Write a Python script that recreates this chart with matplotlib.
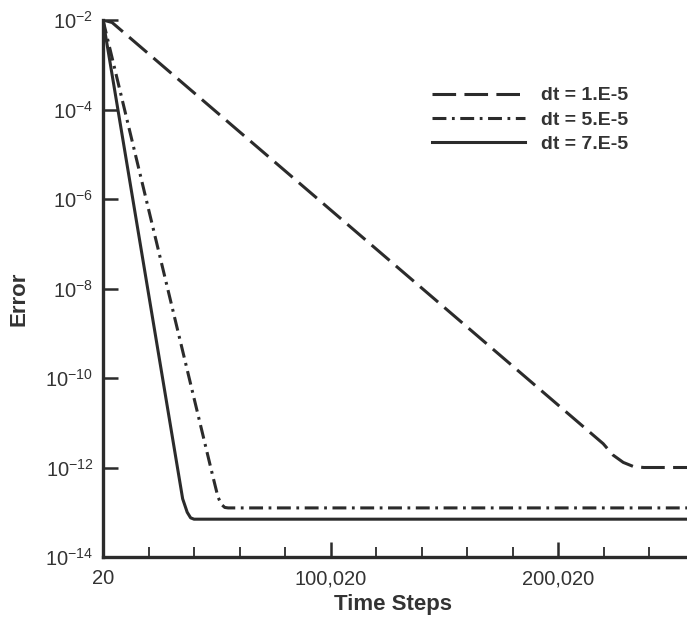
import math
import matplotlib
matplotlib.use("Agg")
import matplotlib.pyplot as plt
from matplotlib.ticker import FixedLocator, FuncFormatter

plt.rcParams['font.family'] = ['Liberation Sans', 'DejaVu Sans']
plt.rcParams['mathtext.fontset'] = 'custom'
plt.rcParams['mathtext.rm'] = 'Liberation Sans'
plt.rcParams['mathtext.it'] = 'Liberation Sans'
plt.rcParams['axes.unicode_minus'] = False
plt.rcParams['lines.scale_dashes'] = False

# ---- data ----
x_dt1 = [20, 4000, 219700, 224000, 228500, 233000, 237500, 256500]
y_dt1 = [1e-2, 8.8e-3, 3.4e-12, 1.9e-12, 1.3e-12, 1.05e-12, 1.0e-12, 1.0e-12]

x_dt5 = [20, 48000, 50500, 52000, 53500, 55000, 256500]
y_dt5 = [1e-2, 7.2e-13, 2.2e-13, 1.5e-13, 1.28e-13, 1.25e-13, 1.25e-13]

x_dt7 = [20, 35000, 37000, 38500, 40000, 256500]
y_dt7 = [1e-2, 2.0e-13, 1.0e-13, 7.5e-14, 7.0e-14, 7.0e-14]

labels = ["dt = 1.E-5", "dt = 5.E-5", "dt = 7.E-5"]
x_major = [20, 100020, 200020]
x_major_labels = ["20", "100,020", "200,020"]
x_minor = [20020, 40020, 60020, 80020, 120020, 140020, 160020, 180020, 220020, 240020]
y_major = [1e-14, 1e-12, 1e-10, 1e-8, 1e-6, 1e-4, 1e-2]

col = '#2b2b2b'
tcol = '#333333'

fig = plt.figure(figsize=(6.87, 6.33), dpi=100)
ax = fig.add_axes([103/687, 1 - 557/633, 1 - 103/687, (557 - 20)/633])

lw = 2.2
ax.plot(x_dt1, y_dt1, color=col, lw=lw, dashes=(17, 6), label=labels[0])
ax.plot(x_dt5, y_dt5, color=col, lw=lw, dashes=(10, 4, 2, 4), label=labels[1])
ax.plot(x_dt7, y_dt7, color=col, lw=lw, linestyle='-', label=labels[2])

ax.set_yscale('log')
ax.set_ylim(1e-14, 1e-2)
ax.set_xlim(20, 256500)

ax.yaxis.set_major_locator(FixedLocator(y_major))
ax.yaxis.set_minor_locator(FixedLocator([]))
ax.yaxis.set_major_formatter(FuncFormatter(
    lambda v, p: r'$\mathregular{10^{%d}}$' % round(math.log10(v))))

ax.xaxis.set_major_locator(FixedLocator(x_major))
ax.xaxis.set_minor_locator(FixedLocator(x_minor))
ax.set_xticklabels(x_major_labels)

for s in ['top', 'right']:
    ax.spines[s].set_visible(False)
for s in ['left', 'bottom']:
    ax.spines[s].set_linewidth(2.4)
    ax.spines[s].set_color(col)

ax.tick_params(axis='both', which='major', direction='in', length=11, width=1.8,
               color=col, labelsize=14.5, labelcolor=tcol, pad=7)
ax.tick_params(axis='x', which='minor', direction='in', length=7, width=1.3, color=col)
ax.tick_params(axis='x', which='major', pad=9)

ax.set_xlabel('Time Steps', fontsize=16, fontweight='bold', color=tcol)
ax.set_ylabel('Error', fontsize=16, fontweight='bold', color=tcol)
ax.xaxis.set_label_coords(0.497, -0.068)
ax.yaxis.set_label_coords(-0.125, 0.48)

leg = ax.legend(loc='upper left', bbox_to_anchor=(0.55, 0.89), frameon=False,
                prop={'size': 14, 'weight': 'bold'}, handlelength=4.8,
                handletextpad=0.8, labelspacing=0.35, borderaxespad=0)
for t in leg.get_texts():
    t.set_color(tcol)

fig.savefig('out.png', dpi=100)
